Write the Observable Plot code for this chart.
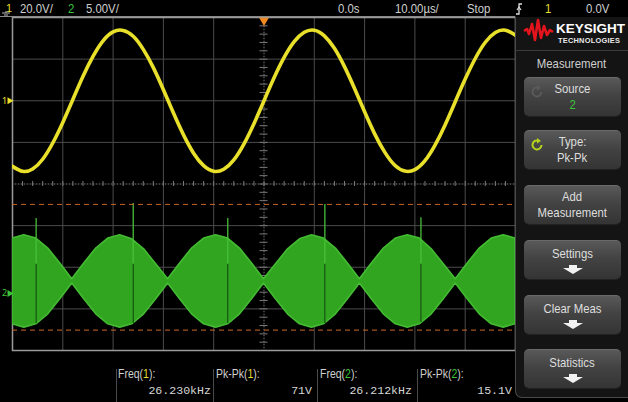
<!DOCTYPE html>
<html><head><meta charset="utf-8">
<script src="https://cdn.jsdelivr.net/npm/d3@7"></script>
<script src="https://cdn.jsdelivr.net/npm/@observablehq/plot@0.6"></script>
<style>
html,body{margin:0;padding:0;background:#000;}
#scope{position:relative;width:628px;height:402px;overflow:hidden;background:#000;
  font-family:"Liberation Sans",Arial,sans-serif;color:#cfcfcf;}
#scope > svg{position:absolute;left:0;top:0;}
.t{position:absolute;white-space:nowrap;font-size:13.5px;line-height:1;transform:scaleX(0.84);transform-origin:0 0;}
.c{transform-origin:50% 0;}
.mono{font-family:"Liberation Mono","DejaVu Sans Mono",monospace;font-size:11.6px;transform:none;}
.y{color:#e6de2c}.g{color:#3cc43a}
#panel{position:absolute;left:515px;top:17px;width:118px;height:380px;background:#141414;
  border-left:1px solid #4a4a4a;border-bottom:1px solid #4a4a4a;border-bottom-left-radius:7px;}
.btn{position:absolute;left:524px;width:97px;height:38px;border-radius:5px;
  background:linear-gradient(#595959,#434343 45%,#343434);border-top:1px solid #6a6a6a;
  box-shadow:0 1px 0 #222;display:flex;flex-direction:column;align-items:center;justify-content:center;
  font-size:13.5px;color:#dedede;line-height:16px;}
.btn .lbl{transform:scaleX(0.84);white-space:nowrap;}
.sep{position:absolute;width:1px;background:#4a4a4a;}
</style></head>
<body>
<div id="scope"></div>
<script>
const timeUs1 = [-50,-48,-46,-44,-42,-40,-38,-36,-34,-32,-30,-28,-26,-24,-22,-20,-18,-16,-14,-12,-10,-8,-6,-4,-2,0,
  2,4,6,8,10,12,14,16,18,20,22,24,26,28,30,32,34,36,38,40,42,44,46,48,50];
const ch1Volts = [-31.5,-33.9,-32.8,-28.1,-20.3,-10.4,0.6,11.6,21.3,28.8,33.1,33.8,31.0,24.7,15.9,5.3,-5.9,-16.4,-25.2,-31.2,-33.9,-32.9,-28.4,-20.8,-11.0,0,
  11.0,20.8,28.4,32.9,33.9,31.2,25.2,16.4,5.9,-5.3,-15.9,-24.7,-31.0,-33.8,-33.1,-28.8,-21.3,-11.6,-0.6,10.4,20.3,28.1,32.8,33.9,31.5];

const timeUs2 = [-50.0,-47.65,-45.27,-42.89,-40.50,-38.12,-35.74,-33.35,-30.97,-28.59,-26.21,-23.83,-21.44,-19.06,-16.68,-14.30,-11.91,-9.53,-7.15,-4.77,-2.38,0,
  2.38,4.77,7.15,9.53,11.91,14.30,16.68,19.06,21.44,23.83,26.21,28.59,30.97,33.35,35.74,38.12,40.50,42.89,45.27,47.65,50.0];
const ch2Upper = [6.6,7.0,6.6,5.4,3.6,1.7,3.6,5.4,6.6,7.0,6.5,5.3,3.5,1.7,3.6,5.4,6.6,7.0,6.6,5.4,3.6,1.7,
  3.5,5.3,6.5,7.0,6.6,5.4,3.6,1.7,3.6,5.4,6.6,7.0,6.6,5.3,3.5,1.7,3.6,5.4,6.6,7.0,6.6];
const ch2Lower = [-3.7,-4.1,-3.7,-2.5,-0.7,1.2,-0.7,-2.5,-3.7,-4.1,-3.7,-2.5,-0.7,1.2,-0.7,-2.5,-3.7,-4.1,-3.7,-2.5,-0.7,1.2,
  -0.7,-2.5,-3.7,-4.1,-3.7,-2.5,-0.7,1.2,-0.7,-2.5,-3.7,-4.1,-3.7,-2.5,-0.7,1.2,-0.7,-2.5,-3.7,-4.1,-3.7];
const spikeTimes = [-45.3,-26.0,-7.2,12.1,31.2];
const spikeTop = [9.0,10.8,9.0,10.7,9.1];
const spikeBottom = [-3.6,-3.6,-3.6,-3.6,-3.5];
const cursorLevels = [10.7,-4.4];   // ch2 Pk-Pk cursors (V)

const ch1Scale = 20, ch2Scale = 5;   // V/div
const ch1Pos = 2, ch2Pos = -2.63;    // ground position (div)
const timeDivs = [-50,-40,-30,-20,-10,0,10,20,30,40,50];
const voltDivs = [-4,-3,-2,-1,0,1,2,3,4];
const minorX = d3.range(-50,50.01,2);
const minorY = d3.range(-4,4.01,0.2);
const triggerTime = [0];

const topLabels = [
  {x:20,t:'20.0V/'},{x:68,t:'2',c:'g'},{x:86,t:'5.00V/'},{x:338,t:'0.0s'},{x:395,t:'10.00µs/'},
  {x:467,t:'Stop'},{x:545,t:'1',c:'y'},{x:586,t:'0.0V'}
];
const measLabels = [
  {x:118,name:'Freq',ch:'1',val:'26.230kHz',end:211},
  {x:216,name:'Pk-Pk',ch:'1',val:'71V',end:312},
  {x:320,name:'Freq',ch:'2',val:'26.212kHz',end:412},
  {x:420,name:'Pk-Pk',ch:'2',val:'15.1V',end:512}
];
const buttons = [
  {top:77,l1:'Source',l2:'2',l2c:'g',icon:'dim'},
  {top:130,l1:'Type:',l2:'Pk-Pk',icon:'on'},
  {top:185,l1:'Add',l2:'Measurement'},
  {top:240,l1:'Settings',arrow:true},
  {top:295,l1:'Clear Meas',arrow:true},
  {top:349,l1:'Statistics',arrow:true}
];

// ---- build tables ----
const ch1 = timeUs1.map((t,i)=>({t, v:ch1Volts[i]}));
const ch2 = timeUs2.map((t,i)=>({t, hi:ch2Upper[i], lo:ch2Lower[i]}));
const spikes = spikeTimes.map((t,i)=>({t, top:spikeTop[i], bot:spikeBottom[i]}));
const d1 = v => v/ch1Scale + ch1Pos;
const d2 = v => v/ch2Scale + ch2Pos;

const YEL = "#e8e02a", GRN = "#31a520";

const plot = Plot.plot({
  width:628, height:402,
  marginLeft:12, marginRight:113, marginTop:17, marginBottom:52,
  x:{domain:[-50,50], axis:null},
  y:{domain:[-4,4], axis:null},
  style:{background:"transparent", overflow:"visible"},
  marks:[
    Plot.ruleX(timeDivs, {stroke:"#4c4c4c", strokeWidth:1}),
    Plot.ruleY(voltDivs, {stroke:"#4c4c4c", strokeWidth:1}),
    Plot.ruleX([0], {stroke:"#000", strokeWidth:1.2}),
    Plot.ruleY([0], {stroke:"#000", strokeWidth:1.2}),
    Plot.ruleX([0], {stroke:"#6a6a6a", strokeDasharray:"1,2"}),
    Plot.ruleY([0], {stroke:"#6a6a6a", strokeDasharray:"1,2"}),
    Plot.ruleX(minorX, {y1:-0.06, y2:0.06, stroke:"#7a7a7a"}),
    Plot.ruleY(minorY, {x1:-0.8, x2:0.8, stroke:"#7a7a7a"}),
    Plot.frame({stroke:"#9a9a9a", strokeWidth:1.5}),
    // channel 2 envelope
    Plot.areaY(ch2, {x:"t", y1:d=>d2(d.lo), y2:d=>d2(d.hi), fill:GRN, stroke:"#44bb33", strokeWidth:1.6, clip:true}),
    Plot.ruleX(spikes, {x:"t", y1:d=>d2(d.top), y2:d=>d2(d.bot), stroke:"#48c038", strokeWidth:1.3}),
    Plot.ruleX(spikes, {x:"t", y1:d=>d2(3.5), y2:d=>d2(d.bot), stroke:"#0f4a0a", strokeWidth:1.2}),
    Plot.ruleY(cursorLevels, {y:d=>d2(d), stroke:"#c9682a", strokeWidth:1, strokeDasharray:"5,4"}),
    // channel 1
    Plot.line(ch1, {x:"t", y:d=>d1(d.v), stroke:YEL, strokeWidth:3.6, curve:"natural", clip:true}),
    // markers
    Plot.dot(triggerTime, {x:d=>d, y:4, symbol:"triangle", rotate:180, r:3.6, fill:"#f08a20", dy:3}),
    Plot.dot([ch1Pos], {x:-50, y:d=>d, symbol:"triangle", rotate:90, r:2.6, fill:YEL, dx:-3}),
    Plot.text([ch1Pos], {x:-50, y:d=>d, text:()=>"1", fill:YEL, fontSize:9, dx:-8, dy:0}),
    Plot.dot([ch2Pos], {x:-50, y:d=>d, symbol:"triangle", rotate:90, r:2.6, fill:"#3cc43a", dx:-3}),
    Plot.text([ch2Pos], {x:-50, y:d=>d, text:()=>"2", fill:"#3cc43a", fontSize:9, dx:-8, dy:0})
  ]
});
const root = document.getElementById("scope");
root.appendChild(plot);

function el(tag, cls, style, html){const e=document.createElement(tag); if(cls)e.className=cls; if(style)e.style.cssText=style; if(html!==undefined)e.innerHTML=html; root.appendChild(e); return e;}

// top bar
el("div","", "position:absolute;left:0;top:16px;width:515px;height:1px;background:#8a8a8a;");
topLabels.forEach(d=>el("div","t "+(d.c||""), `left:${d.x}px;top:2px;`, d.t));
el("div","", "position:absolute;left:0;top:0;", `<svg width="20" height="17"><text x="6" y="12" fill="#e6de2c" font-size="11" font-family="Liberation Sans">1</text><path d="M2 13 h8 M4 15 h4" stroke="#bbb" stroke-width="1"/><path d="M6 11 v2" stroke="#bbb"/></svg>`);
el("div","", "position:absolute;left:513px;top:2px;", `<svg width="12" height="14"><path d="M3 12 L6 12 L6 2 L9 2" stroke="#ddd" stroke-width="1.3" fill="none"/><path d="M4 8 L6 5 L8 8" stroke="#ddd" stroke-width="1.2" fill="none"/></svg>`);

// right panel
el("div","", "", "").id="panel";
el("div","", "position:absolute;left:515px;top:50px;width:113px;height:1px;background:#3c3c3c;");
el("div","", "position:absolute;left:522px;top:18px;", `<svg width="106" height="30">
 <polyline points="2,13 5,11 7,16 10,6 13,22 16,2 19,20 22,8 25,17 28,12 31,14" fill="none" stroke="#e3141c" stroke-width="2.6" stroke-linejoin="round"/>
 <text x="34" y="15" fill="#fff" font-family="Liberation Sans, Arial" font-weight="bold" font-size="13.5">KEYSIGHT</text>
 <text x="36" y="25" fill="#e8e8e8" font-family="Liberation Sans, Arial" font-weight="bold" font-size="7.4" letter-spacing="0.25">TECHNOLOGIES</text>
</svg>`);
el("div","t c", "left:515px;width:113px;text-align:center;top:57px;color:#cfcfcf;", "Measurement");
const arrowSvg = `<svg width="22" height="10" style="margin-top:3px"><polygon points="7,0 15,0 15,3 21,3 11,9 1,3 7,3" fill="#f2f2f2"/></svg>`;
buttons.forEach(b=>{
  let inner = `<div class="lbl">${b.l1}</div>`;
  if (b.l2) inner += `<div class="lbl ${b.l2c||""}">${b.l2}</div>`;
  if (b.arrow) inner += arrowSvg;
  el("div","btn", `top:${b.top}px;`, inner);
  if (b.icon){
    const col = b.icon==="on" ? "#b4d41e" : "#5a5a5a";
    el("div","", `position:absolute;left:530px;top:${b.top+8}px;`, `<svg width="14" height="14"><path d="M11.5 7 A4.5 4.5 0 1 1 8.5 2.7" fill="none" stroke="${col}" stroke-width="2"/><polygon points="7,0 11,3 7,5.5" fill="${col}"/></svg>`);
  }
});

// bottom measurements
[116,213,317,417].forEach(x=>el("div","sep", `left:${x}px;top:369px;height:33px;`));
measLabels.forEach(m=>{
  el("div","t", `left:${m.x}px;top:368px;font-size:12.5px;`, `${m.name}(<span class="${m.ch==='1'?'y':'g'}">${m.ch}</span>):`);
  el("div","t mono", `left:${m.end-120}px;width:120px;text-align:right;top:385px;color:#d6d6d6;`, m.val);
});
</script>
</body></html>
